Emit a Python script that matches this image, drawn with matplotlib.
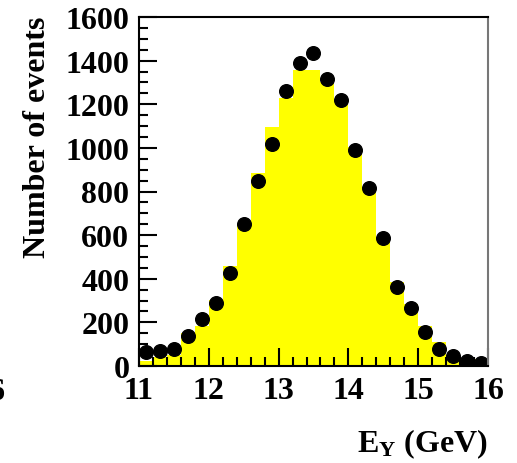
#!/usr/bin/env python3
"""Photon energy spectrum: simulated histogram (yellow) vs data points."""

import matplotlib

matplotlib.use("Agg")
import matplotlib.pyplot as plt
import numpy as np
from matplotlib.ticker import MultipleLocator

# bin edges 11..16 GeV, 0.2 GeV wide
bin_lo = 11.0
bin_hi = 16.0
n_bins = 25

mc_counts = [24, 43, 50, 151, 185, 304, 457, 651, 885, 1097, 1229, 1359, 1359,
             1300, 1210, 1003, 819, 590, 387, 284, 182, 109, 44, 35, 32]
data_counts = [63, 70, 78, 139, 215, 287, 426, 651, 847, 1016, 1259, 1389, 1434,
               1316, 1220, 990, 815, 585, 361, 265, 156, 80, 47, 23, 12]

x_ticks = [11, 12, 13, 14, 15, 16]
y_ticks = [0, 200, 400, 600, 800, 1000, 1200, 1400, 1600]

plt.rcParams["font.family"] = ["Liberation Serif", "DejaVu Serif"]
plt.rcParams["font.weight"] = "bold"
plt.rcParams["mathtext.fontset"] = "custom"
plt.rcParams["mathtext.rm"] = "Liberation Serif:bold"
plt.rcParams["mathtext.bf"] = "Liberation Serif:bold"
plt.rcParams["mathtext.it"] = "Liberation Serif:bold"

W, H = 517, 464
FS = 23
fig = plt.figure(figsize=(W / 100, H / 100), dpi=100)
ax = fig.add_axes([139 / W, 1 - 367 / H, (488 - 139) / W, (367 - 18) / H])

edges = np.linspace(bin_lo, bin_hi, n_bins + 1)
centers = 0.5 * (edges[:-1] + edges[1:])

ax.stairs(mc_counts, edges, fill=True, color="#ffff00", linewidth=0)
ax.plot(centers, data_counts, "o", color="black", markersize=9.8, clip_on=True)

ax.set_xlim(bin_lo, bin_hi)
ax.set_ylim(0, 1600)
ax.set_xticks(x_ticks)
ax.set_yticks(y_ticks)
ax.xaxis.set_minor_locator(MultipleLocator(0.2))
ax.yaxis.set_minor_locator(MultipleLocator(50))
ax.tick_params(which="both", direction="in", top=False, right=False,
               labelsize=FS, width=1.5, color="black")
ax.tick_params(which="major", length=13)
ax.tick_params(which="minor", length=6.5)
ax.tick_params(axis="y", pad=7)
ax.tick_params(axis="x", pad=7.5)
for lab in ax.get_xticklabels() + ax.get_yticklabels():
    lab.set_fontweight("bold")

for side in ("left", "bottom", "top"):
    ax.spines[side].set_linewidth(1.5)
    ax.spines[side].set_color("black")
ax.spines["right"].set_linewidth(1.5)
ax.spines["right"].set_color("#777777")

fig.text(38 / W, 1 - 17 / H, "Number of events", rotation=90, ha="center",
         va="top", fontsize=FS, fontweight="bold")
fig.text(488 / W, 1 - 452 / H, r"$\mathbf{E}_{\mathbf{Y}}$ (GeV)", ha="right",
         va="baseline", fontsize=FS, fontweight="bold")
# clipped tick label of the neighbouring panel
fig.text(-3 / W, 1 - 393 / H, "6", ha="center", va="center", fontsize=FS,
         fontweight="bold")

fig.savefig("out.png", dpi=100)
